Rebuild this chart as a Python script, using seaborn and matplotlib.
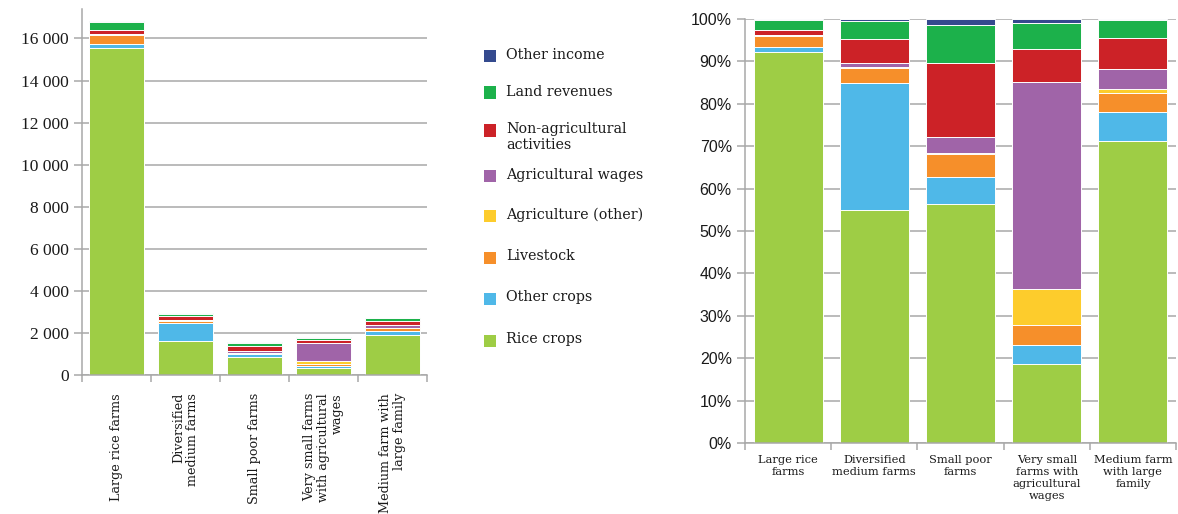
import matplotlib
matplotlib.use("Agg")
import matplotlib.pyplot as plt
import seaborn as sns
import pandas as pd
from matplotlib.patches import Rectangle
from matplotlib.ticker import FuncFormatter, MultipleLocator, FixedLocator

# Farm types
farm_types = [
    "Large rice farms",
    "Diversified medium farms",
    "Small poor farms",
    "Very small farms with agricultural wages",
    "Medium farm with large family",
]
labels_vertical = [
    "Large rice farms",
    "Diversified\nmedium farms",
    "Small poor farms",
    "Very small farms\nwith agricultural\nwages",
    "Medium farm with\nlarge family",
]
labels_horizontal = [
    "Large rice\nfarms",
    "Diversified\nmedium farms",
    "Small poor\nfarms",
    "Very small\nfarms with\nagricultural\nwages",
    "Medium farm\nwith large\nfamily",
]

# Income by source for each farm type
rice_crops = [15550, 1610, 878, 337, 1925]
other_crops = [190, 880, 101, 77, 184]
livestock = [440, 100, 83, 88, 122]
agriculture_other = [20, 9, 3, 151, 22]
agricultural_wages = [0, 30, 59, 878, 127]
non_agricultural = [200, 160, 271, 142, 197]
land_revenues = [400, 126, 140, 108, 116]
other_income = [50, 15, 23, 18, 8]

# Sources from bottom to top of each stack
sources = [
    ("Rice crops", rice_crops, "#9ecd45"),
    ("Other crops", other_crops, "#4fb8e8"),
    ("Livestock", livestock, "#f68f2a"),
    ("Agriculture (other)", agriculture_other, "#fdcc2c"),
    ("Agricultural wages", agricultural_wages, "#a064a8"),
    ("Non-agricultural\nactivities", non_agricultural, "#cc2227"),
    ("Land revenues", land_revenues, "#1cb14b"),
    ("Other income", other_income, "#344a8e"),
]

table = pd.DataFrame({name: vals for name, vals, _ in sources}, index=farm_types)
cumulative = table.cumsum(axis=1)
share = cumulative.div(table.sum(axis=1), axis=0) * 100

sns.set_theme(style="white")
plt.rcParams["font.family"] = ["DejaVu Serif"]
text_color = "#1a1a1a"
grid_color = "#a8a8a8"

W, H = 1178, 514
fig = plt.figure(figsize=(W / 100, H / 100), dpi=100)
ax1 = fig.add_axes([82 / W, 1 - 375 / H, 345 / W, 366 / H])
ax2 = fig.add_axes([745 / W, 1 - 443 / H, 431 / W, 424 / H])


def draw_stack(ax, data):
    # tallest cumulative layer first, lower layers drawn over it
    for name, _, color in reversed(sources):
        sns.barplot(x=farm_types, y=data[name].values, order=farm_types,
                    color=color, saturation=1, width=0.8, errorbar=None,
                    edgecolor="#ffffff", linewidth=0.7, ax=ax)


draw_stack(ax1, cumulative)
draw_stack(ax2, share)

for ax in (ax1, ax2):
    ax.set_facecolor("white")
    ax.set_xlim(-0.5, 4.5)
    ax.set_xlabel("")
    ax.set_ylabel("")
    ax.set_axisbelow(True)
    ax.yaxis.grid(True, color=grid_color, linewidth=1.1)
    ax.xaxis.grid(False)
    for side in ("top", "right"):
        ax.spines[side].set_visible(False)
    for side in ("left", "bottom"):
        ax.spines[side].set_color(grid_color)
        ax.spines[side].set_linewidth(1.1)
    ax.xaxis.set_minor_locator(FixedLocator([i - 0.5 for i in range(6)]))
    ax.tick_params(axis="x", which="minor", bottom=True, length=5,
                   color=grid_color, width=1.1)
    ax.tick_params(axis="y", which="major", left=True, length=6,
                   color=grid_color, width=1.1, labelcolor=text_color)

# Absolute income
ax1.set_ylim(0, 17400)
ax1.yaxis.set_major_locator(MultipleLocator(2000))
ax1.yaxis.set_major_formatter(FuncFormatter(lambda v, p: f"{int(v):,}".replace(",", " ")))
for lab in ax1.get_yticklabels():
    lab.set_fontfamily("Liberation Serif")
    lab.set_fontsize(12.5)
ax1.set_xticks(range(5))
ax1.set_xticklabels(labels_vertical, rotation=90, ha="center", va="top",
                    multialignment="right", fontsize=9.2, color=text_color,
                    linespacing=1.1)
ax1.tick_params(axis="x", which="major", length=0, pad=13)

# Income shares
ax2.set_ylim(0, 100)
ax2.yaxis.set_major_locator(MultipleLocator(10))
ax2.yaxis.set_major_formatter(FuncFormatter(lambda v, p: f"{int(round(v))}%"))
for lab in ax2.get_yticklabels():
    lab.set_fontfamily("Liberation Sans")
    lab.set_fontsize(11.5)
ax2.set_xticks(range(5))
ax2.set_xticklabels(labels_horizontal, rotation=0, ha="center", va="top",
                    multialignment="center", fontsize=8.2, color=text_color,
                    linespacing=1.24)
ax2.tick_params(axis="x", which="major", length=0, pad=8.5)

# Legend: colour squares with labels, first line aligned to the square
legend_rows = [56, 92.5, 130.5, 175.5, 216, 257.5, 298.5, 340.5]
sq = 12
for (name, _, color), yc in zip(reversed(sources), legend_rows):
    fig.patches.append(Rectangle((484 / W, 1 - (yc + sq / 2) / H), sq / W, sq / H,
                                 transform=fig.transFigure, facecolor=color,
                                 edgecolor="none"))
    fig.text(506 / W, 1 - (yc - 8) / H, name, ha="left", va="top",
             fontsize=10.3, color=text_color, linespacing=1.15)

fig.savefig("out.png", dpi=100, facecolor="white")
